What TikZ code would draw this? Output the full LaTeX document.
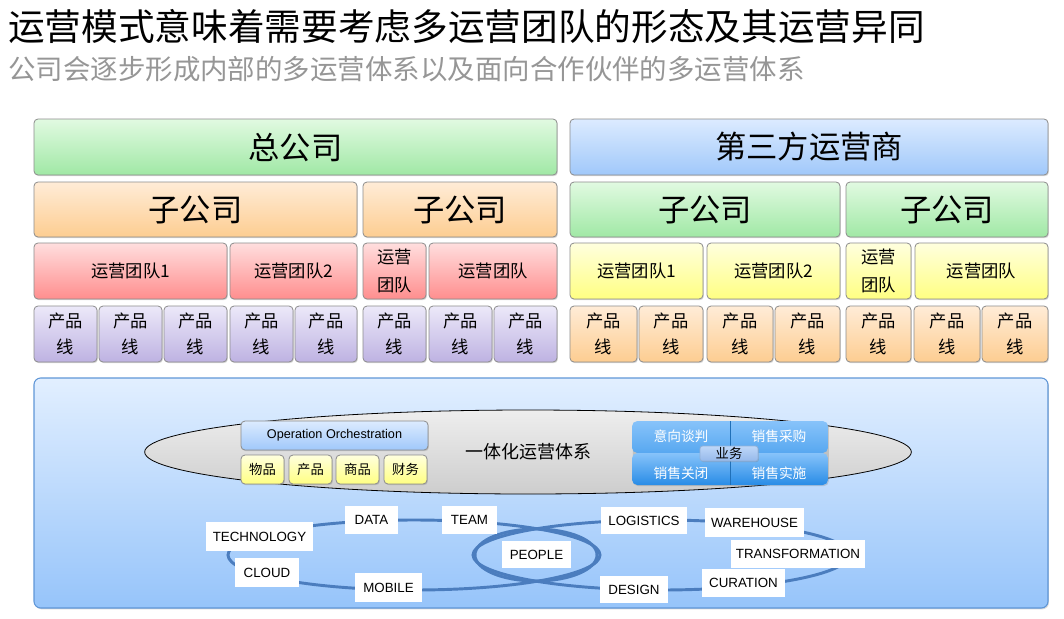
\documentclass[tikz,border=0pt]{standalone}
\usepackage{fontspec}
\setmainfont{Noto Sans CJK SC}
\newfontfamily\lat{Liberation Sans}
\usetikzlibrary{shapes.geometric,shadows}
\definecolor{grT}{RGB}{225,250,225}\definecolor{grB}{RGB}{160,232,165}
\definecolor{blT}{RGB}{220,235,255}\definecolor{blB}{RGB}{160,200,250}
\definecolor{orT}{RGB}{255,236,215}\definecolor{orB}{RGB}{253,205,145}
\definecolor{rdT}{RGB}{255,222,222}\definecolor{rdB}{RGB}{255,142,142}
\definecolor{ywT}{RGB}{255,255,222}\definecolor{ywB}{RGB}{255,255,130}
\definecolor{puT}{RGB}{236,233,249}\definecolor{puB}{RGB}{190,178,226}
\definecolor{paT}{RGB}{226,239,255}\definecolor{paB}{RGB}{150,196,250}
\definecolor{paD}{RGB}{95,150,215}
\definecolor{elT}{RGB}{238,238,238}\definecolor{elB}{RGB}{205,205,205}
\definecolor{ringc}{RGB}{75,125,190}
\definecolor{bizT}{RGB}{135,195,250}\definecolor{bizB}{RGB}{40,140,230}
\definecolor{ywuT}{RGB}{190,215,248}\definecolor{ywuB}{RGB}{150,185,235}
\definecolor{bordc}{RGB}{140,140,140}
\definecolor{subg}{RGB}{150,150,150}
\newcommand\fA{\fontsize{23.5}{28}\selectfont}
\newcommand\fB{\fontsize{13}{20}\selectfont}
\newcommand\fBB{\fontsize{13}{21.5}\selectfont}
\newcommand\fC{\fontsize{10}{12}\selectfont}
\newcommand\mybox[7]{\node[#6, minimum width={(#4-#2)*0.75pt}, minimum height={(#5-#3)*0.75pt}] (#1) at ({(#2+#4)/2},{(#3+#5)/2}) {#7};}
\tikzset{
  bx/.style={draw=bordc, line width=0.6pt, rounded corners=3pt, inner sep=0pt, outer sep=0pt, align=center,
     drop shadow={shadow xshift=0.7pt,shadow yshift=-0.9pt,opacity=0.3}},
  gbox/.style={bx, top color=grT, bottom color=grB},
  bbox/.style={bx, top color=blT, bottom color=blB},
  obox/.style={bx, top color=orT, bottom color=orB},
  rbox/.style={bx, top color=rdT, bottom color=rdB},
  ybox/.style={bx, top color=ywT, bottom color=ywB},
  pbox/.style={bx, top color=puT, bottom color=puB},
  lab/.style={fill=white, inner sep=0pt, outer sep=0pt, font=\lat\fontsize{10}{12}\selectfont},
  ringline/.style={draw=ringc, line width=2.2pt},
}
\begin{document}
\begin{tikzpicture}[x=0.75pt,y=-0.75pt]
\useasboundingbox (0,0) rectangle (1064,618);
\node[anchor=west, inner sep=0pt, font=\fontsize{27.5}{30}\selectfont] (title) at (8,27) {运营模式意味着需要考虑多运营团队的形态及其运营异同};
\node[anchor=west, inner sep=0pt, text=subg, font=\fontsize{20.6}{24}\selectfont] (sub) at (8,69) {公司会逐步形成内部的多运营体系以及面向合作伙伴的多运营体系};
% row 1
\mybox{hq}{34}{119}{557}{175}{gbox,font=\fA}{总公司}
\mybox{third}{570}{119}{1048}{175}{bbox,font=\fA}{第三方运营商}
% row 2
\mybox{subA}{34}{182}{357}{237}{obox,font=\fA}{子公司}
\mybox{subB}{363}{182}{557}{237}{obox,font=\fA}{子公司}
\mybox{subC}{570}{182}{840}{237}{gbox,font=\fA}{子公司}
\mybox{subD}{846}{182}{1048}{237}{gbox,font=\fA}{子公司}
% row 3
\mybox{tA}{34}{243}{227}{299}{rbox,font=\fB}{运营团队1}
\mybox{tB}{230}{243}{357}{299}{rbox,font=\fB}{运营团队2}
\mybox{tC}{363}{243}{426}{299}{rbox,font=\fBB}{运营\\团队}
\mybox{tD}{429}{243}{557}{299}{rbox,font=\fB}{运营团队}
\mybox{tE}{570}{243}{703}{299}{ybox,font=\fB}{运营团队1}
\mybox{tF}{707}{243}{840}{299}{ybox,font=\fB}{运营团队2}
\mybox{tG}{846}{243}{911}{299}{ybox,font=\fBB}{运营\\团队}
\mybox{tH}{915}{243}{1048}{299}{ybox,font=\fB}{运营团队}
% row 4
\mybox{p1}{34}{306}{97}{362}{pbox,font=\fB}{产品\\线}
\mybox{p2}{99}{306}{162}{362}{pbox,font=\fB}{产品\\线}
\mybox{p3}{164}{306}{227}{362}{pbox,font=\fB}{产品\\线}
\mybox{p4}{230}{306}{293}{362}{pbox,font=\fB}{产品\\线}
\mybox{p5}{295}{306}{357}{362}{pbox,font=\fB}{产品\\线}
\mybox{p6}{363}{306}{426}{362}{pbox,font=\fB}{产品\\线}
\mybox{p7}{429}{306}{492}{362}{pbox,font=\fB}{产品\\线}
\mybox{p8}{494}{306}{557}{362}{pbox,font=\fB}{产品\\线}
\mybox{q1}{570}{306}{637}{362}{obox,font=\fB}{产品\\线}
\mybox{q2}{639}{306}{703}{362}{obox,font=\fB}{产品\\线}
\mybox{q3}{707}{306}{773}{362}{obox,font=\fB}{产品\\线}
\mybox{q4}{775}{306}{840}{362}{obox,font=\fB}{产品\\线}
\mybox{q5}{846}{306}{911}{362}{obox,font=\fB}{产品\\线}
\mybox{q6}{914}{306}{980}{362}{obox,font=\fB}{产品\\线}
\mybox{q7}{982}{306}{1048}{362}{obox,font=\fB}{产品\\线}
% bottom panel
\mybox{panel}{34}{378}{1048}{608}{draw=paD, line width=0.8pt, rounded corners=5pt, top color=paT, bottom color=paB, inner sep=0pt,
   drop shadow={shadow xshift=0.7pt,shadow yshift=-1pt,opacity=0.3}}{}
\node[ellipse, draw=black, line width=0.6pt, top color=elT, bottom color=elB, minimum width=575pt, minimum height=63pt, inner sep=0pt] (core) at (528,452) {};
\node[font=\fontsize{13.5}{16}\selectfont, inner sep=0pt] (coretxt) at (528,452) {一体化运营体系};
\mybox{oo}{241}{421}{428}{450}{bbox,font=\lat\fontsize{9.5}{11}\selectfont}{Operation Orchestration}
\mybox{y1}{241}{455}{284}{484}{ybox,font=\fC}{物品}
\mybox{y2}{289}{455}{332}{484}{ybox,font=\fC}{产品}
\mybox{y3}{336}{455}{379}{484}{ybox,font=\fC}{商品}
\mybox{y4}{384}{455}{427}{484}{ybox,font=\fC}{财务}
% business block
\mybox{biz}{632}{421}{828}{485}{rounded corners=4pt, inner sep=0pt, drop shadow={shadow xshift=0.7pt,shadow yshift=-0.9pt,opacity=0.3},
  path picture={
   \shade[top color=bizT, bottom color=bizB] (path picture bounding box.north west) rectangle (path picture bounding box.east);
   \shade[top color=bizT, bottom color=bizB] (path picture bounding box.west) rectangle (path picture bounding box.south east);
   \draw[bizB!80!black, line width=0.4pt] (path picture bounding box.north) -- (path picture bounding box.south);
  }}{}
\node[text=white, font=\fontsize{10.3}{12}\selectfont, inner sep=0pt] (b1) at (681,436) {意向谈判};
\node[text=white, font=\fontsize{10.3}{12}\selectfont, inner sep=0pt] (b2) at (779,436) {销售采购};
\node[text=white, font=\fontsize{10.3}{12}\selectfont, inner sep=0pt] (b3) at (681,473) {销售关闭};
\node[text=white, font=\fontsize{10.3}{12}\selectfont, inner sep=0pt] (b4) at (779,473) {销售实施};
\mybox{yw}{700}{446}{758}{461}{bx, draw=ringc!60, rounded corners=2pt, top color=ywuT, bottom color=ywuB, font=\fC}{业务}
% rings
\draw[ringline] (414,555) ellipse [x radius=139.5pt, y radius=26.25pt];
\draw[ringline] (661,555) ellipse [x radius=141pt, y radius=26.25pt];
\draw[ringline] (536,555) ellipse [x radius=45.75pt, y radius=19.5pt];
% labels
\mybox{l1}{206}{522}{313}{551}{lab}{TECHNOLOGY}
\mybox{l2}{345}{506}{398}{534}{lab}{DATA}
\mybox{l3}{442}{506}{497}{534}{lab}{TEAM}
\mybox{l4}{235}{558}{299}{587}{lab}{CLOUD}
\mybox{l5}{355}{573}{422}{602}{lab}{MOBILE}
\mybox{l6}{502}{541}{571}{568}{lab}{PEOPLE}
\mybox{l7}{601}{507}{687}{534}{lab}{LOGISTICS}
\mybox{l8}{705}{508}{804}{537}{lab}{WAREHOUSE}
\mybox{l9}{731}{540}{865}{568}{lab}{TRANSFORMATION}
\mybox{l10}{702}{569}{785}{597}{lab}{CURATION}
\mybox{l11}{600}{576}{668}{603}{lab}{DESIGN}
\end{tikzpicture}
\end{document}
